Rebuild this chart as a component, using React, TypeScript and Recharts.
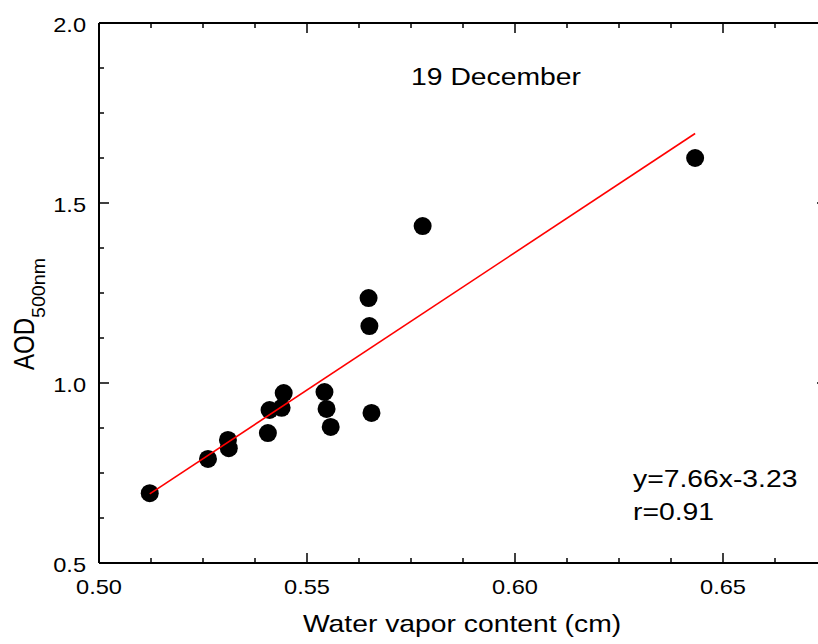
import React from 'react'
import { ScatterChart, Scatter, XAxis, YAxis, ReferenceLine } from 'recharts'

// values
const waterVapor: number[] = [
  0.5122, 0.5262, 0.5310, 0.5312, 0.5406, 0.5410, 0.5439, 0.5444,
  0.5542, 0.5547, 0.5557, 0.5648, 0.5650, 0.5655, 0.5778, 0.6433
]
const aod500: number[] = [
  0.694, 0.789, 0.842, 0.819, 0.861, 0.925, 0.931, 0.972,
  0.975, 0.928, 0.878, 1.236, 1.158, 0.917, 1.436, 1.625
]
// end points of the red fit line
const fitX: number[] = [0.5122, 0.6433]
const fitY: number[] = [0.692, 1.693]

const xTicks: number[] = [
  0.5, 0.5125, 0.525, 0.5375, 0.55, 0.5625, 0.575, 0.5875,
  0.6, 0.6125, 0.625, 0.6375, 0.65, 0.6625, 0.675
]
const yTicks: number[] = [
  0.5, 0.625, 0.75, 0.875, 1.0, 1.125, 1.25, 1.375,
  1.5, 1.625, 1.75, 1.875, 2.0
]

const FONT = "Arial, 'Liberation Sans', sans-serif"
const S = 1.18 // text in the reference is a bit wider than tall
const MAJOR = 10
const MINOR = 5
// plot box edges (fixed by the margins below)
const TOP = 23
const RIGHT = 827

const points = waterVapor.map((x, i) => ({ x, y: aod500[i] }))
const fitLine = fitX.map((x, i) => ({ x, y: fitY[i] }))

const isMajor = (p: any) => p.index % 4 === 0

const WText = ({ x, y, anchor, size, children }: any) => (
  <text
    transform={`translate(${x},${y}) scale(${S},1)`}
    textAnchor={anchor}
    fontSize={size}
    fontFamily={FONT}
    fill="#000"
  >
    {children}
  </text>
)

// bottom tick + its mirror on the top frame
const XTick = (props: any) => {
  const { x, y, payload } = props
  const len = isMajor(payload) ? MAJOR : MINOR
  return (
    <g>
      <line x1={x} x2={x} y1={y} y2={y - len} stroke="#000" strokeWidth={1.5} />
      <line x1={x} x2={x} y1={TOP} y2={TOP + len} stroke="#000" strokeWidth={1.5} />
      {isMajor(payload) && (
        <WText x={x} y={y + 31} anchor="middle" size={20}>
          {payload.value.toFixed(2)}
        </WText>
      )}
    </g>
  )
}

// left tick + its mirror on the right frame
const YTick = (props: any) => {
  const { x, y, payload } = props
  const len = isMajor(payload) ? MAJOR : MINOR
  return (
    <g>
      <line x1={x} x2={x + len} y1={y} y2={y} stroke="#000" strokeWidth={1.5} />
      <line x1={RIGHT} x2={RIGHT - len} y1={y} y2={y} stroke="#000" strokeWidth={1.5} />
      {isMajor(payload) && (
        <WText x={x - 13} y={y + 8.5} anchor="end" size={20}>
          {payload.value.toFixed(1)}
        </WText>
      )}
    </g>
  )
}

const Dot = (props: any) => <circle cx={props.cx} cy={props.cy} r={9} fill="#000" />

const App: React.FC = () => {
  return (
    <div style={{ position: 'fixed', left: 0, top: 0, width: 818, height: 644, overflow: 'hidden', background: '#fff' }}>
      <ScatterChart width={840} height={644} margin={{ top: TOP, right: 840 - RIGHT, bottom: 0, left: 0 }}>
        <XAxis
          dataKey="x"
          type="number"
          domain={[0.5, 0.675]}
          allowDataOverflow
          ticks={xTicks}
          interval={0}
          height={81}
          tickSize={0}
          tickMargin={0}
          tickLine={false}
          tick={<XTick />}
          axisLine={{ stroke: '#000', strokeWidth: 2 }}
        />
        <YAxis
          dataKey="y"
          type="number"
          domain={[0.5, 2.0]}
          allowDataOverflow
          ticks={yTicks}
          interval={0}
          width={99}
          tickSize={0}
          tickMargin={0}
          tickLine={false}
          tick={<YTick />}
          axisLine={{ stroke: '#000', strokeWidth: 2 }}
        />
        <ReferenceLine y={2.0} stroke="#000" strokeWidth={2} ifOverflow="visible" />
        <ReferenceLine x={0.675} stroke="#000" strokeWidth={2} ifOverflow="visible" />
        <Scatter
          data={points}
          fill="#000"
          shape={<Dot />}
          isAnimationActive={false}
        />
        <Scatter
          data={fitLine}
          line={{ stroke: '#ff0000', strokeWidth: 1.6 }}
          shape={() => <g />}
          isAnimationActive={false}
        />
      </ScatterChart>
      <svg
        width={818}
        height={644}
        style={{ position: 'absolute', left: 0, top: 0, pointerEvents: 'none' }}
      >
        <WText x={496} y={85} anchor="middle" size={24}>19 December</WText>
        <WText x={633} y={487} anchor="start" size={24}>y=7.66x-3.23</WText>
        <WText x={633} y={520} anchor="start" size={24}>r=0.91</WText>
        <WText x={462} y={632} anchor="middle" size={24}>Water vapor content (cm)</WText>
        <text
          transform={`translate(34,370) scale(1.2,1) rotate(-90)`}
          fontFamily={FONT}
          fill="#000"
        >
          <tspan fontSize={24}>AOD</tspan>
          <tspan fontSize={15} dy={9} textLength={60} lengthAdjust="spacingAndGlyphs">500nm</tspan>
        </text>
      </svg>
    </div>
  )
}

export default App
